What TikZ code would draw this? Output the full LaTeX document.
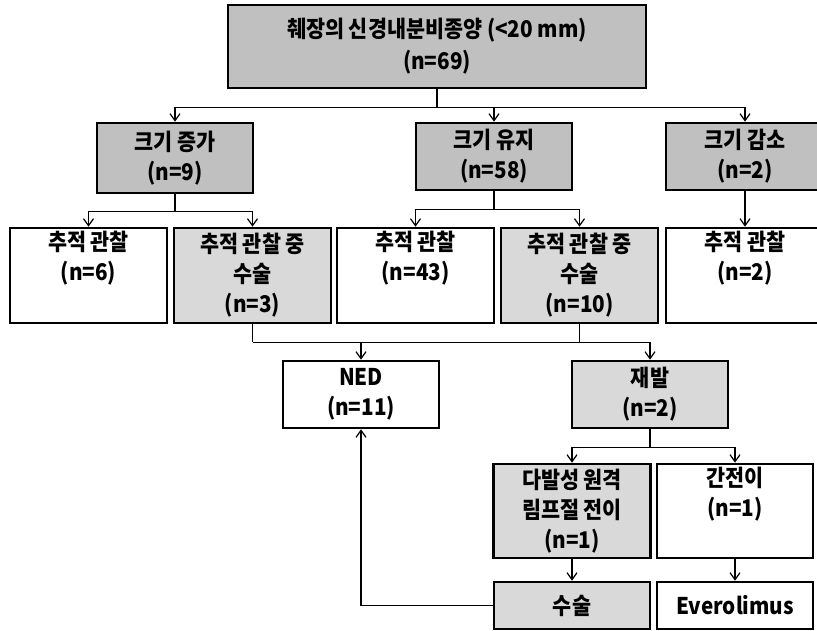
\documentclass[tikz,border=0pt]{standalone}
\usepackage{fontspec}
\setmainfont{Noto Sans CJK KR}[FakeStretch=0.9]
\usetikzlibrary{positioning, arrows.meta}
\definecolor{boxdark}{HTML}{C0C0C0}
\definecolor{boxlight}{HTML}{D9D9D9}

\begin{document}
\begin{tikzpicture}[x=1pt, y=-1pt, >={Straight Barb[length=7pt, width=10pt]},
    every node/.style={align=center, draw, line width=2.6pt, inner sep=0pt, font=\fontsize{23pt}{30pt}\selectfont\bfseries},
    box/.style={minimum width=157pt, minimum height=95pt},
    link/.style={line width=1.2pt}]
    \useasboundingbox (0,0) rectangle (817,631);

    \node (top) at (437,46.5) [fill=boxdark, minimum width=418pt, minimum height=83pt, font=\fontsize{23pt}{32pt}\selectfont\bfseries] {췌장의 신경내분비종양 (<20 mm)\\(n=69)};

    \node (inc) at (175,158) [fill=boxdark, minimum width=156pt, minimum height=70pt] {크기 증가\\(n=9)};
    \node (keep) at (494,156.5) [fill=boxdark, minimum width=156pt, minimum height=67pt] {크기 유지\\(n=58)};
    \node (dec) at (745,156.5) [fill=boxdark, minimum width=158pt, minimum height=67pt] {크기 감소\\(n=2)};

    \node (obsA) at (88.5,275.5) [box, fill=white] {추적 관찰\\(n=6)\\\strut};
    \node (opA) at (252.5,275.5) [box, fill=boxlight] {추적 관찰 중\\수술\\(n=3)};
    \node (obsB) at (415.5,275.5) [box, fill=white] {추적 관찰\\(n=43)\\\strut};
    \node (opB) at (579.5,275.5) [box, fill=boxlight] {추적 관찰 중\\수술\\(n=10)};
    \node (obsC) at (745,275.5) [box, fill=white, minimum width=158pt] {추적 관찰\\(n=2)\\\strut};

    \node (ned) at (361,394.5) [fill=white, minimum width=156pt, minimum height=67pt] {NED\\(n=11)};
    \node (rec) at (650,394.5) [fill=boxlight, minimum width=156pt, minimum height=67pt] {재발\\(n=2)};

    \node (meta) at (572,511) [box, fill=boxlight, minimum height=94pt] {다발성 원격\\림프절 전이\\(n=1)};
    \node (liver) at (735,511) [box, fill=white, minimum width=156pt, minimum height=94pt] {간전이\\(n=1)\\\strut};

    \node (op) at (572,605.5) [fill=boxlight, minimum width=156pt, minimum height=47pt] {수술};
    \node (evero) at (735,605.5) [fill=white, minimum width=156pt, minimum height=47pt] {Everolimus};

    % first split
    \draw[link] (top.south) -- ++(0,18) coordinate (j1);
    \draw[link, ->] (j1) -| (inc.north);
    \draw[link, ->] (j1) -| (keep.north);
    \draw[link, ->] (j1) -| (dec.north);

    % second row
    \draw[link] (inc.south) -- ++(0,17) coordinate (j2);
    \draw[link, ->] (j2) -| (obsA.north);
    \draw[link, ->] (j2) -| (opA.north);
    \draw[link] (keep.south) -- ++(0,18) coordinate (j3);
    \draw[link, ->] (j3) -| (obsB.north);
    \draw[link, ->] (j3) -| (opB.north);
    \draw[link, ->] (dec) -- (obsC);

    % outcome after surgery
    \draw[link] (opA.south) -- ++(0,18) coordinate (j4);
    \draw[link] (opB.south) -- (opB.south |- j4);
    \draw[link, ->] (j4) -| (rec.north);
    \draw[link, ->] (ned.north |- j4) -- (ned.north);

    \draw[link] (rec.south) -- ++(0,18) coordinate (j5);
    \draw[link, ->] (j5) -| (meta.north);
    \draw[link, ->] (j5) -| (liver.north);
    \draw[link, ->] (meta) -- (op);
    \draw[link, ->] (liver) -- (evero);
    \draw[link, ->] (op.west) -| (ned.south);
\end{tikzpicture}
\end{document}
